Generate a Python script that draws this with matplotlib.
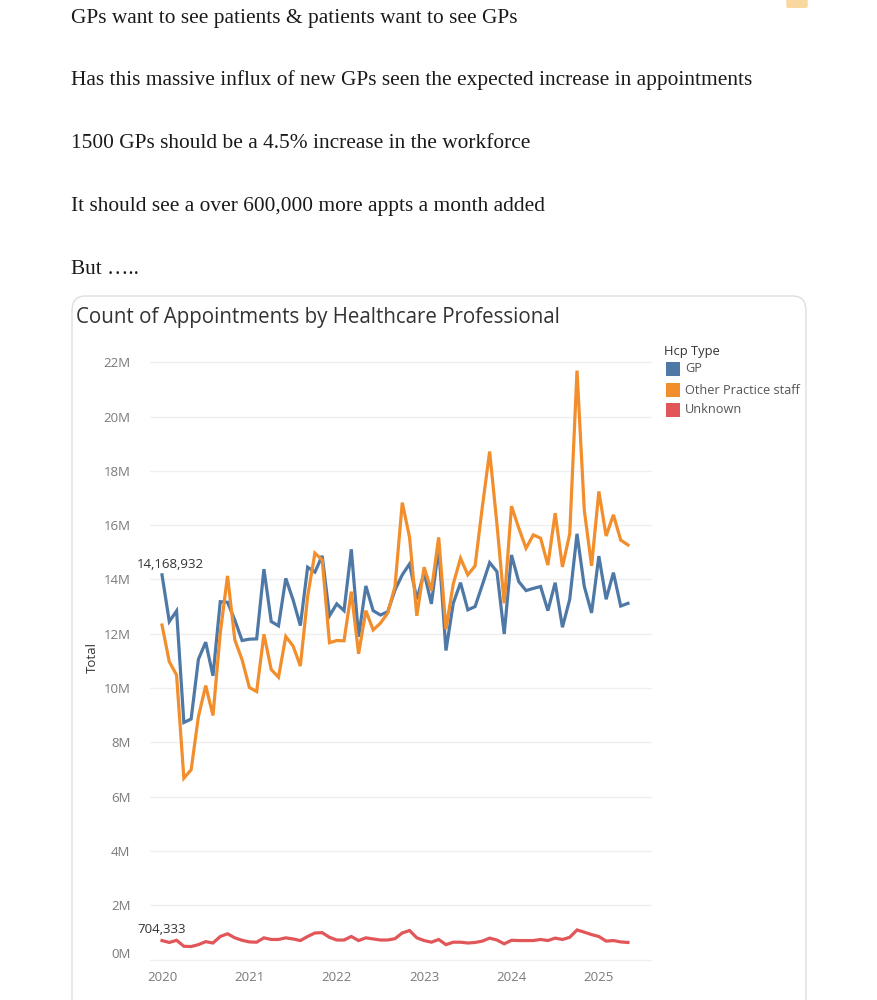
import matplotlib
matplotlib.use("Agg")
import matplotlib.pyplot as plt
from matplotlib.patches import FancyBboxPatch, Rectangle
import matplotlib.transforms as mtransforms
import numpy as np

# ---------------- data (millions) ----------------
months = list(range(65))  # Jan 2020 .. May 2025
year_labels = ["2020", "2021", "2022", "2023", "2024", "2025"]
year_positions = [0, 12, 24, 36, 48, 60]

gp = [14.17, 12.45, 12.84, 8.73, 8.86, 11.06, 11.69, 10.45, 13.18, 13.16,
      12.50, 11.75, 11.80, 11.81, 14.38, 12.45, 12.29, 14.04, 13.25, 12.30,
      14.45, 14.27, 14.87, 12.66, 13.10, 12.85, 15.11, 11.89, 13.76, 12.85,
      12.69, 12.81, 13.61, 14.17, 14.57, 13.27, 14.25, 13.10, 15.19, 11.38,
      13.12, 13.88, 12.88, 13.00, 13.80, 14.62, 14.29, 11.99, 14.90, 13.92,
      13.59, 13.67, 13.74, 12.85, 13.88, 12.24, 13.27, 15.68, 13.74, 12.77,
      14.86, 13.27, 14.25, 13.02, 13.12]

other = [12.32, 10.97, 10.48, 6.68, 6.99, 8.95, 10.09, 8.99, 12.02, 14.13,
         11.77, 11.04, 10.02, 9.87, 11.98, 10.68, 10.40, 11.90, 11.55, 10.81,
         13.37, 14.97, 14.72, 11.67, 11.75, 11.74, 13.55, 11.26, 12.85, 12.14,
         12.39, 12.76, 13.74, 16.83, 15.55, 12.66, 14.45, 13.59, 15.55, 12.16,
         13.83, 14.78, 14.17, 14.50, 16.68, 18.71, 16.04, 13.12, 16.70, 15.89,
         15.15, 15.64, 15.52, 14.53, 16.44, 14.46, 15.68, 21.69, 16.55, 14.50,
         17.24, 15.60, 16.38, 15.45, 15.27]

unknown = [0.70, 0.63, 0.71, 0.49, 0.48, 0.55, 0.66, 0.61, 0.85, 0.95,
           0.80, 0.71, 0.65, 0.64, 0.80, 0.74, 0.74, 0.80, 0.76, 0.70,
           0.85, 0.98, 0.99, 0.82, 0.72, 0.72, 0.85, 0.70, 0.80, 0.76,
           0.72, 0.72, 0.77, 0.98, 1.07, 0.80, 0.70, 0.64, 0.74, 0.55,
           0.64, 0.64, 0.61, 0.63, 0.68, 0.79, 0.72, 0.58, 0.71, 0.70,
           0.70, 0.70, 0.74, 0.70, 0.79, 0.74, 0.82, 1.09, 1.01, 0.92,
           0.85, 0.68, 0.70, 0.65, 0.63]

series_names = ["GP", "Other Practice staff", "Unknown"]
series_colors = ["#4e79a7", "#f28e2b", "#e15759"]
y_ticks = list(range(0, 23, 2))

intro_lines = [
    "GPs want to see patients & patients want to see GPs",
    "Has this massive influx of new GPs seen the expected increase in appointments",
    "1500 GPs should be a 4.5% increase in the workforce",
    "It should see a over 600,000 more appts a month added",
    "But \u2026..",
]
title = "Count of Appointments by Healthcare Professional"

# ---------------- figure ----------------
W, H = 877, 1000
fig = plt.figure(figsize=(W / 100, H / 100), dpi=100)
fig.patch.set_facecolor("white")

def fx(px):
    return px / W

def fy(py):
    return 1 - py / H

# intro text
text_y = [18, 80, 143, 206, 270]
for t, yy in zip(intro_lines, text_y):
    fig.text(fx(71), fy(yy), t, fontsize=15.4, family="Liberation Serif",
             color="#1a1a1a", va="center", ha="left")

# decorative blob top right
fig.patches.append(FancyBboxPatch((fx(788), fy(6)), fx(18), 0.012,
                                  boxstyle="round,pad=0.002", transform=fig.transFigure,
                                  facecolor="#f7cf86", edgecolor="none", alpha=0.8,
                                  zorder=-2))

# card
card = FancyBboxPatch((fx(72), fy(1030)), fx(806 - 72), (1030 - 296) / H,
                      boxstyle="round,pad=0,rounding_size=0.015",
                      transform=fig.transFigure, facecolor="white",
                      edgecolor="#dedede", linewidth=1.0, zorder=-2)
fig.patches.append(card)

fig.text(fx(76), fy(317), title, fontsize=14.8, family="Open Sans",
         color="#333333", va="center", ha="left")

# axes
left, right, top, bottom = 150, 652, 350, 965
ax = fig.add_axes([fx(left), fy(bottom), fx(right - left), (bottom - top) / H])
ax.set_zorder(3)
ax.set_facecolor("none")
for s in ax.spines.values():
    s.set_visible(False)

for vals, name, col in zip([gp, other, unknown], series_names, series_colors):
    ax.plot(months, vals, color=col, linewidth=2.3, label=name,
            solid_joinstyle="miter", zorder=3)

ax.set_xlim(-1.65, 67.3)
ax.set_ylim(-0.2, 22.45)
ax.set_yticks(y_ticks)
ax.set_yticklabels([f"{v}M" for v in y_ticks])
ax.set_xticks(year_positions)
ax.set_xticklabels(year_labels)
ax.tick_params(axis="both", length=0, labelsize=9.5, labelcolor="#7a7a7a")
ax.tick_params(axis="y", pad=14)
ax.tick_params(axis="x", pad=4)
for lbl in ax.get_yticklabels():
    lbl.set_family("Open Sans")
for lbl in ax.get_xticklabels():
    lbl.set_family("Open Sans")
# the bottom label sits slightly raised, as in the reference
zero_lbl = ax.get_yticklabels()[0]
zero_lbl.set_transform(zero_lbl.get_transform() +
                       mtransforms.ScaledTranslation(0, 7 / 100, fig.dpi_scale_trans))
ax.grid(axis="y", color="#efefef", linewidth=1.0, zorder=0)
ax.grid(axis="x", visible=False)
ax.set_ylabel("Total", fontsize=9.5, color="#333333", family="Open Sans", labelpad=3)

ax.annotate(f"{14168932:,}", xy=(months[0], gp[0]), xytext=(-18, 3),
            textcoords="offset points", fontsize=9.5, color="#333333",
            family="Open Sans", ha="left", va="bottom")
ax.annotate(f"{704333:,}", xy=(months[0], unknown[0]), xytext=(-18, 3),
            textcoords="offset points", fontsize=9.5, color="#333333",
            family="Open Sans", ha="left", va="bottom")

# legend
fig.text(fx(664), fy(352), "Hcp Type", fontsize=9.3, family="Open Sans",
         color="#333333", va="center", ha="left", fontweight="medium")
leg_y = [369, 390, 410]
for name, col, yy in zip(series_names, series_colors, leg_y):
    fig.patches.append(Rectangle((fx(666), fy(yy + 7)), fx(14), 14 / H,
                                 transform=fig.transFigure, facecolor=col,
                                 edgecolor="none"))
    fig.text(fx(685), fy(yy), name, fontsize=9.2, family="Open Sans",
             color="#555555", va="center", ha="left")

fig.savefig("out.png", dpi=100, facecolor="white")
